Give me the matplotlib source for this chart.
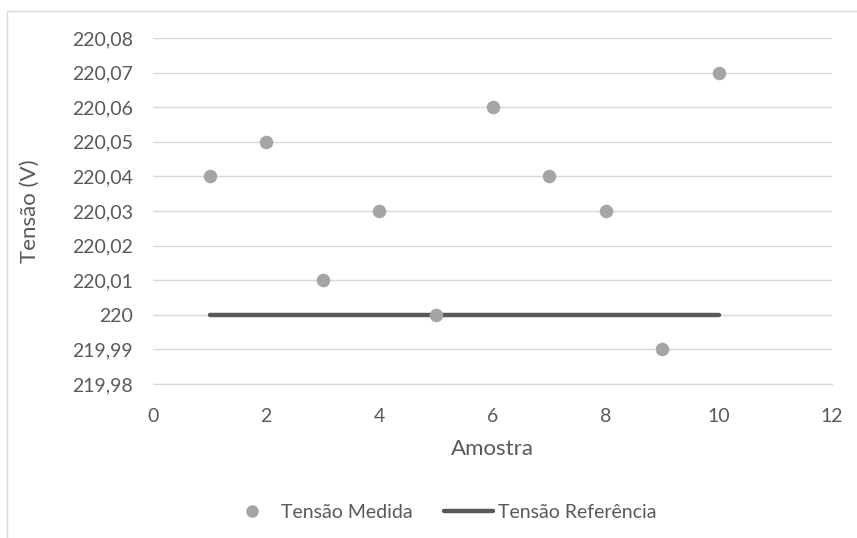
import matplotlib.pyplot as plt
from matplotlib.lines import Line2D
from matplotlib.patches import Rectangle
from matplotlib.ticker import FuncFormatter

amostra = [1, 2, 3, 4, 5, 6, 7, 8, 9, 10]
tensao_medida = [220.04, 220.05, 220.01, 220.03, 220.00, 220.06, 220.04, 220.03, 219.99, 220.07]
ref_x = [1, 10]
tensao_referencia = [220.0, 220.0]

plt.rcParams['font.family'] = ['Lato', 'DejaVu Sans']
text_color = '#595959'
grid_color = '#d9d9d9'

fig = plt.figure(figsize=(8.57, 5.38), dpi=100)
ax = fig.add_axes([0.1785, 0.2862, 0.9709 - 0.1785, 0.9294 - 0.2862])

# outer chart border
fig.patches.append(Rectangle((7 / 857, -0.1), 1.2, 1 - 11 / 538 + 0.1,
                             transform=fig.transFigure, fill=False,
                             edgecolor='#d9d9d9', linewidth=1.0))

ax.plot(ref_x, tensao_referencia, color='#595959', linewidth=3.2,
        solid_capstyle='round', zorder=2)
ax.scatter(amostra, tensao_medida, s=95, color='#a5a5a5', zorder=3,
           linewidths=0)

ax.set_xlim(0, 12)
ax.set_ylim(219.98, 220.08)
ax.set_xticks(range(0, 13, 2))
ax.set_yticks([219.98 + 0.01 * i for i in range(11)])


def comma_fmt(v, pos):
    s = '{:.2f}'.format(v).rstrip('0').rstrip('.')
    return s.replace('.', ',')


ax.yaxis.set_major_formatter(FuncFormatter(comma_fmt))
ax.grid(axis='y', color=grid_color, linewidth=1.0, zorder=0)
for side in ['top', 'right', 'left']:
    ax.spines[side].set_visible(False)
ax.spines['bottom'].set_color(grid_color)
ax.tick_params(axis='y', length=0, colors=text_color, labelsize=14, pad=14.5)
ax.tick_params(axis='x', length=0, colors=text_color, labelsize=14, pad=17)

ax.set_xlabel('Amostra', color=text_color, fontsize=16, va='center')
ax.set_ylabel('Tensão (V)', color=text_color, fontsize=16, va='center')
ax.xaxis.set_label_coords(0.5, -(449 - 384) / 346)
ax.yaxis.set_label_coords((30 - 153) / 679, 0.5)

handles = [
    Line2D([], [], linestyle='none', marker='o', markersize=9,
           color='#a5a5a5', markeredgewidth=0),
    Line2D([], [], color='#595959', linewidth=3.2, solid_capstyle='round'),
]
fig.legend(handles, ['Tensão Medida', 'Tensão Referência'],
           loc='center', bbox_to_anchor=(442 / 857, 1 - 512 / 538), ncol=2,
           frameon=False, fontsize=14, labelcolor=text_color,
           handlelength=2.5, handletextpad=0.25, columnspacing=1.6)

fig.savefig('out.png', dpi=100)
